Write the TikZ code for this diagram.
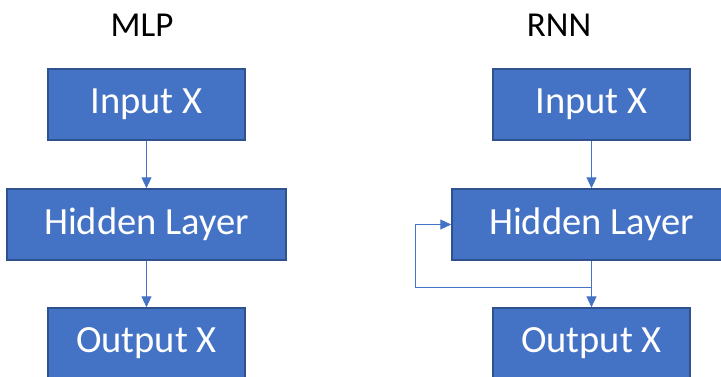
\documentclass[tikz,border=0pt]{standalone}
\usepackage{fontspec}
\setmainfont{Carlito}
\usetikzlibrary{arrows.meta}
\definecolor{boxfill}{HTML}{4472C4}
\definecolor{boxline}{HTML}{2F528F}
\begin{document}
\begin{tikzpicture}[x=1pt,y=-1pt,
  layer/.style={draw=boxline, line width=1.5pt, fill=boxfill, text=white,
    inner sep=0pt, minimum height=71pt, minimum width=197pt,
    font=\fontsize{38.5}{46}\selectfont},
  wide/.style={minimum width=279pt},
  title/.style={anchor=base, font=\fontsize{35}{42}\selectfont},
  flow/.style={draw=boxfill, line width=1pt, -{Triangle[width=10pt,length=11pt]}}]
\useasboundingbox (0,0) rectangle (721,376);

% MLP column
\node[title] (mlpt) at (142,36) {MLP};
\node[layer] (mi) at (146.5,104.5) {Input X};
\node[layer,wide] (mh) at (146.5,224.5) {Hidden Layer};
\node[layer] (mo) at (146.5,343.5) {Output X};
\draw[flow] (mi) -- (mh);
\draw[flow] (mh) -- (mo);

% RNN column
\node[title] (rnnt) at (559,36) {RNN};
\node[layer] (ri) at (591.5,104.5) {Input X};
\node[layer,wide] (rh) at (591.5,224.5) {Hidden Layer};
\node[layer] (ro) at (591.5,343.5) {Output X};
\draw[flow] (ri) -- (rh);
\draw[flow] (rh) -- (ro);

% recurrent feedback loop
\coordinate (split) at (591.5,287);
\coordinate (loop) at (415,287);
\draw[flow] (split) -- (loop) |- (rh.west);
\end{tikzpicture}
\end{document}
